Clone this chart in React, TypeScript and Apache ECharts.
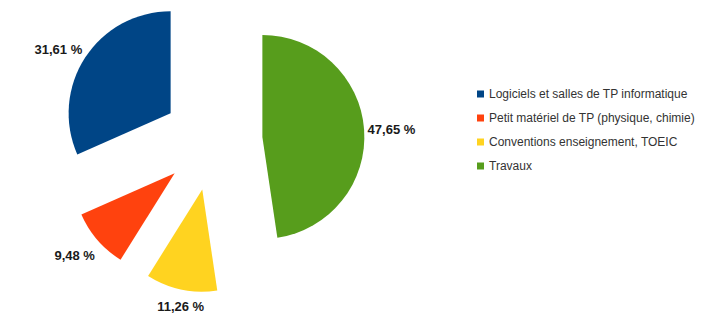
import React, { useEffect, useRef } from "react";
import * as echarts from "echarts";

const categories = [
  "Travaux",
  "Conventions enseignement, TOEIC",
  "Petit matériel de TP (physique, chimie)",
  "Logiciels et salles de TP informatique",
];
const values = [47.65, 11.26, 9.48, 31.61];
const colors = ["#579d1c", "#ffd320", "#ff420e", "#004586"];
const legendOrder = [
  "Logiciels et salles de TP informatique",
  "Petit matériel de TP (physique, chimie)",
  "Conventions enseignement, TOEIC",
  "Travaux",
];

const CX = 212.5;
const CY = 140.6;
const RADIUS = 102;
const OFFSET = 50;
const GAP = 3.5;
const BELOW_EXTRA = 7;

export default function App() {
  const ref = useRef<HTMLDivElement>(null);
  useEffect(() => {
    if (!ref.current) return;
    const chart = echarts.init(ref.current, null, { renderer: "svg" });
    const total = values.reduce((a, b) => a + b, 0);
    const mids: number[] = [];
    let acc = 0;
    values.forEach((v) => {
      const a = (v / total) * Math.PI * 2;
      mids.push(acc + a / 2);
      acc += a;
    });
    const series = categories.map((_, k) => {
      const dx = Math.sin(mids[k]);
      const dy = -Math.cos(mids[k]);
      const cx = CX + dx * OFFSET;
      const cy = CY + dy * OFFSET;
      const align = Math.abs(dx) < 0.38 ? "center" : dx > 0 ? "left" : "right";
      const valign = Math.abs(dy) < 0.38 ? "middle" : dy > 0 ? "top" : "bottom";
      return {
        type: "pie",
        center: [cx, cy],
        radius: [0, RADIUS],
        startAngle: 90,
        clockwise: true,
        silent: true,
        emphasis: { disabled: true },
        avoidLabelOverlap: false,
        labelLine: { show: false },
        label: {
          show: true,
          position: "outside",
          fontFamily: "Liberation Sans",
          fontSize: 13,
          fontWeight: "bold",
          color: "#1a1a1a",
          formatter: (p: any) => p.value.toFixed(2).replace(".", ",") + " %",
        },
        labelLayout: () => ({
          x: cx + dx * (RADIUS + GAP),
          y: cy + dy * (RADIUS + GAP) + (valign === "top" ? BELOW_EXTRA : 0),
          align,
          verticalAlign: valign,
        }),
        data: categories.map((c, i) => ({
          name: c,
          value: values[i],
          itemStyle: { color: i === k ? colors[i] : "transparent" },
          label: { show: i === k },
        })),
      };
    });
    chart.setOption({
      animation: false,
      backgroundColor: "#ffffff",
      textStyle: { fontFamily: "Liberation Sans" },
      legend: {
        orient: "vertical",
        left: 472,
        top: 83,
        data: legendOrder.map((n) => ({
          name: n,
          itemStyle: { color: colors[categories.indexOf(n)] },
        })),
        icon: "rect",
        itemWidth: 7,
        itemHeight: 7,
        itemGap: 12,
        selectedMode: false,
        textStyle: {
          fontFamily: "Liberation Sans",
          fontSize: 12,
          lineHeight: 12,
          color: "#333333",
        },
      },
      series,
    });
    return () => chart.dispose();
  }, []);
  return (
    <div
      ref={ref}
      style={{ position: "absolute", left: 0, top: 0, width: 710, height: 318 }}
    />
  );
}
